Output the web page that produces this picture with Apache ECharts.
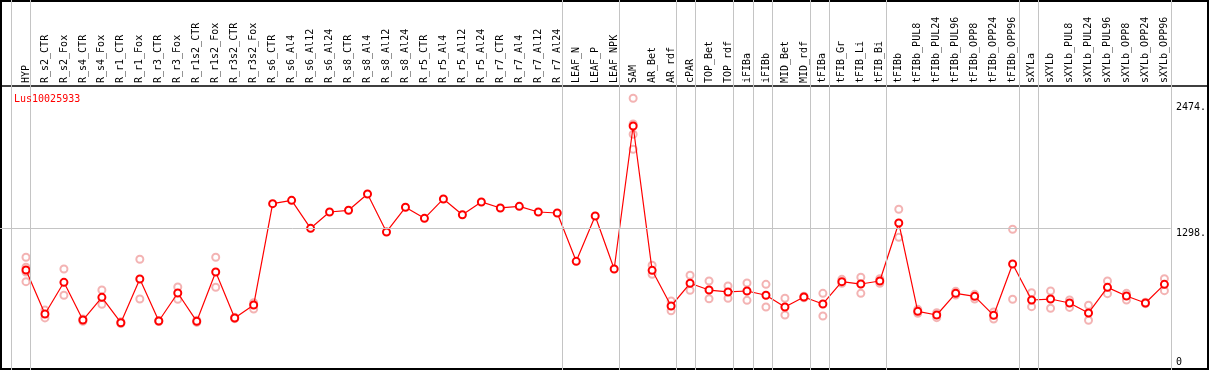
<!DOCTYPE html>
<html>
<head>
<meta charset="utf-8">
<script src="https://cdn.jsdelivr.net/npm/echarts@6/dist/echarts.min.js"></script>
<style>html,body{margin:0;padding:0;background:#fff}#c{width:1209px;height:370px}</style>
</head>
<body>
<div id="c"></div>
<script>
const chartTitle = 'Lus10025933';
const categories = ['HYP','R_s2_CTR','R_s2_Fox','R_s4_CTR','R_s4_Fox','R_r1_CTR','R_r1_Fox','R_r3_CTR','R_r3_Fox','R_r1s2_CTR','R_r1s2_Fox','R_r3s2_CTR','R_r3s2_Fox','R_s6_CTR','R_s6_Al4','R_s6_Al12','R_s6_Al24','R_s8_CTR','R_s8_Al4','R_s8_Al12','R_s8_Al24','R_r5_CTR','R_r5_Al4','R_r5_Al12','R_r5_Al24','R_r7_CTR','R_r7_Al4','R_r7_Al12','R_r7_Al24','LEAF_N','LEAF_P','LEAF_NPK','SAM','AR_Bet','AR_rdf','cPAR','TOP_Bet','TOP_rdf','iFIBa','iFIBb','MID_Bet','MID_rdf','tFIBa','tFIB_Gr','tFIB_Li','tFIB_Bi','tFIBb','tFIBb_PUL8','tFIBb_PUL24','tFIBb_PUL96','tFIBb_OPP8','tFIBb_OPP24','tFIBb_OPP96','sXYLa','sXYLb','sXYLb_PUL8','sXYLb_PUL24','sXYLb_PUL96','sXYLb_OPP8','sXYLb_OPP24','sXYLb_OPP96'];
const meanValues = [909,498,794,442,654,417,825,433,694,430,890,461,582,1528,1559,1298,1450,1466,1618,1264,1494,1391,1572,1425,1544,1488,1503,1450,1441,990,1413,918,2253,906,573,785,722,704,713,673,564,657,592,800,778,806,1348,523,489,691,663,486,965,629,638,601,508,747,666,601,775];
const replicateValues = [[1028,935,890,800],[535,462],[918,673],[430,452],[722,589],[410,425],[1009,638],[428,438],[750,636],[420,440],[1028,748],[455,467],[604,545],[],[],[],[],[],[],[],[],[],[],[],[],[],[],[],[],[],[],[],[2512,2272,2176,2036],[953,869],[620,529],[860,720],[806,641],[760,645],[788,626],[775,564],[645,489],[650,665],[691,480],[822,785],[841,691],[828,785],[1476,1214],[542,505],[511,464],[710,675],[682,638],[517,452],[1289,636],[697,567],[713,552],[629,560],[580,440],[806,688],[691,629],[595,608],[828,716]];
const yTickValues = [0, 1298, 2474];
const yTickLabels = ['0', '1298.', '2474.'];
const gridLineValues = [1298];
const separatorAfter = [-1, 0, 28, 31, 34, 35, 37, 38, 39, 41, 42, 45, 52, 53, 60];
const yMax = 2626;

const mono = "'DejaVu Sans Mono', monospace";
const replicatePoints = [];
replicateValues.forEach((arr, i) => arr.forEach(v => replicatePoints.push([i, v])));

const step = 19.01;
const plotLeft = 16.5;
const plotWidth = step * categories.length;
const sepMin = -(plotLeft + step / 2) / step;
const sepMax = categories.length - 0.5;

const chart = echarts.init(document.getElementById('c'), null, {renderer: 'canvas'});
chart.setOption({
  animation: false,
  title: {text: chartTitle, left: 9, top: 89, textStyle: {color: '#ff0000', fontSize: 10, fontWeight: 'normal', fontFamily: mono}},
  grid: [
    {left: 1, top: 1, right: 1, bottom: 1, show: true, borderColor: '#000', borderWidth: 2, backgroundColor: 'transparent'},
    {left: 0, top: 86, right: 0, bottom: 0, show: true, borderColor: '#000', borderWidth: 1.5, backgroundColor: 'transparent'},
    {left: 0, top: 0, width: (sepMax - sepMin) * step, height: 370},
    {left: 0, top: 86, width: plotLeft + plotWidth - 5.4, height: 281.4},
    {left: plotLeft, top: 86, width: plotWidth, height: 281.4}
  ],
  xAxis: [
    {gridIndex: 0, type: 'value', show: false},
    {gridIndex: 1, type: 'value', show: false},
    {gridIndex: 2, type: 'value', show: false, min: sepMin, max: sepMax},
    {gridIndex: 3, type: 'value', show: false},
    {gridIndex: 4, type: 'category', position: 'top', data: categories, boundaryGap: true,
     axisLine: {show: false}, axisTick: {show: false}, splitLine: {show: false},
     axisLabel: {rotate: 90, interval: 0, margin: 3, color: '#000', fontSize: 10, fontFamily: mono}}
  ],
  yAxis: [
    {gridIndex: 0, type: 'value', show: false},
    {gridIndex: 1, type: 'value', show: false},
    {gridIndex: 2, type: 'value', show: false, min: 0, max: 1},
    {gridIndex: 3, type: 'value', show: false, min: 0, max: yMax},
    {gridIndex: 4, type: 'value', position: 'right', min: 0, max: yMax,
     axisLine: {show: false}, axisTick: {show: false}, splitLine: {show: false},
     axisLabel: {customValues: yTickValues, margin: 2, color: '#000', fontSize: 10, fontFamily: mono,
       formatter: v => {
         const i = yTickValues.indexOf(v);
         const t = i >= 0 ? yTickLabels[i] : '';
         return v === 0 ? '{z|' + t + '}' : '{n|' + t + '}';
       },
       rich: {
         n: {fontSize: 10, fontFamily: mono, color: '#000', padding: [11, 0, 0, 0]},
         z: {fontSize: 10, fontFamily: mono, color: '#000', padding: [0, 0, 9, 0]}
       }}}
  ],
  series: [
    {type: 'line', xAxisIndex: 2, yAxisIndex: 2, data: [[0, -1]], showSymbol: false, silent: true, z: 1,
     markLine: {silent: true, symbol: ['none', 'none'], label: {show: false},
       lineStyle: {color: '#c4c4c4', width: 1, type: 'solid'},
       data: separatorAfter.map(i => ({xAxis: i + 0.2315}))}},
    {type: 'line', xAxisIndex: 3, yAxisIndex: 3, data: [[0, -1]], showSymbol: false, silent: true, z: 1,
     markLine: {silent: true, symbol: ['none', 'none'], label: {show: false},
       lineStyle: {color: '#c4c4c4', width: 1, type: 'solid'},
       data: gridLineValues.map(v => ({yAxis: v}))}},
    {type: 'scatter', xAxisIndex: 4, yAxisIndex: 4, data: replicatePoints, symbol: 'emptyCircle', symbolSize: 7, z: 3,
     itemStyle: {color: '#f0a0a0', borderColor: '#f0a0a0', borderWidth: 1.2}},
    {type: 'line', xAxisIndex: 4, yAxisIndex: 4, data: meanValues, symbol: 'emptyCircle', symbolSize: 7, showAllSymbol: true, z: 4,
     lineStyle: {color: '#ff0000', width: 1.2}, itemStyle: {color: '#ff0000', borderColor: '#ff0000', borderWidth: 1.6}}
  ]
});
</script>
</body>
</html>
